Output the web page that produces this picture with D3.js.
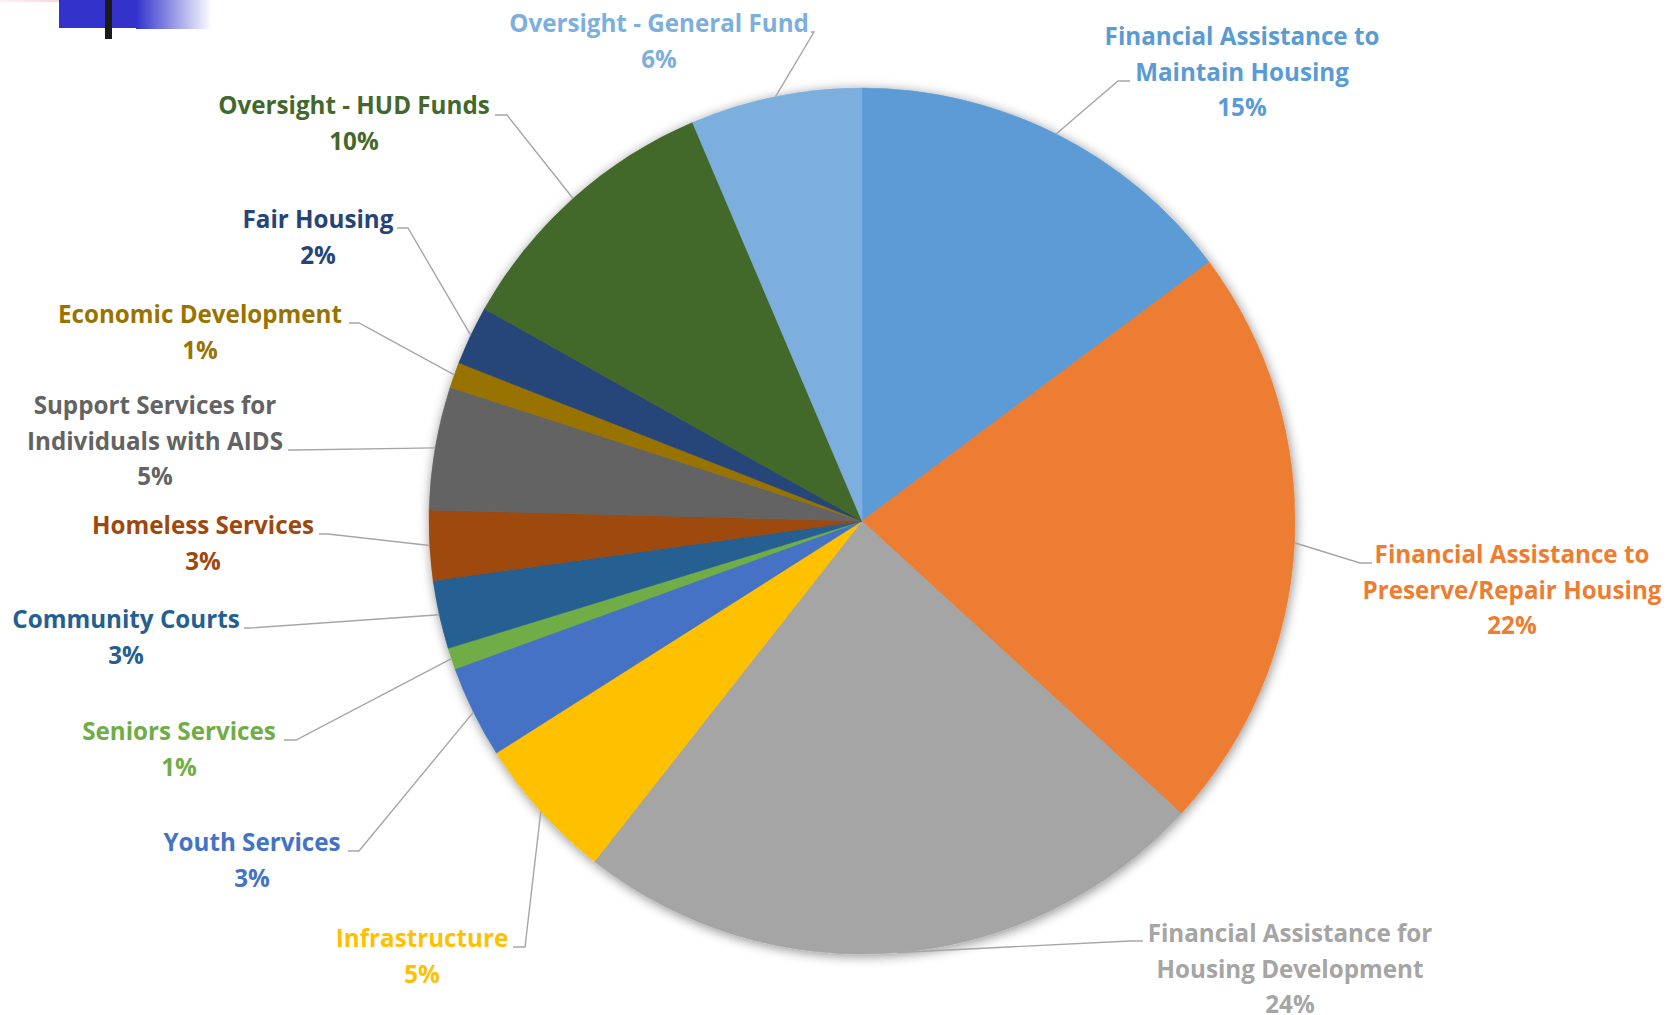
<!DOCTYPE html>
<html>
<head>
<meta charset="utf-8">
<script src="https://cdn.jsdelivr.net/npm/d3@7"></script>
<style>
  body { margin: 0; background: #fff; }
  svg { display: block; }
  .lbl { font-family: "Open Sans", Lato, sans-serif; font-weight: 700; font-size: 24.2px; }
</style>
</head>
<body>
<div id="chart"></div>
<script>
var svgWidth = 1672;
var svgHeight = 1015;

// slices, clockwise from 12 o'clock
var categories = [
  "Financial Assistance to Maintain Housing",
  "Financial Assistance to Preserve/Repair Housing",
  "Financial Assistance for Housing Development",
  "Infrastructure",
  "Youth Services",
  "Seniors Services",
  "Community Courts",
  "Homeless Services",
  "Support Services for Individuals with AIDS",
  "Economic Development",
  "Fair Housing",
  "Oversight - HUD Funds",
  "Oversight - General Fund"
];
var labelLines = [
  ["Financial Assistance to", "Maintain Housing"],
  ["Financial Assistance to", "Preserve/Repair Housing"],
  ["Financial Assistance for", "Housing Development"],
  ["Infrastructure"],
  ["Youth Services"],
  ["Seniors Services"],
  ["Community Courts"],
  ["Homeless Services"],
  ["Support Services for", "Individuals with AIDS"],
  ["Economic Development"],
  ["Fair Housing"],
  ["Oversight - HUD Funds"],
  ["Oversight - General Fund"]
];
var shares = [14.8, 22.0, 23.8, 5.4, 3.45, 0.8, 2.55, 2.6, 4.6, 0.95, 2.2, 10.45, 6.4];

var colors = ["#5B9BD5", "#ED7D31", "#A5A5A5", "#FFC000", "#4472C4", "#70AD47", "#255E91",
              "#9E480E", "#636363", "#997300", "#264478", "#43682B", "#7CAFDD"];

// label layout: text centre x, first baseline, leader end x, elbow x, leader y
var labelPos = [
  {x: 1242, y: 45,  ex: 1130, bx: 1118, ly: 81},
  {x: 1512, y: 563, ex: 1372, bx: 1360, ly: 563},
  {x: 1290, y: 942, ex: 1143, bx: 1130, ly: 941},
  {x: 422,  y: 947, ex: 513,  bx: 525,  ly: 947},
  {x: 252,  y: 851, ex: 348,  bx: 359,  ly: 851},
  {x: 179,  y: 740, ex: 284,  bx: 296,  ly: 740},
  {x: 126,  y: 628, ex: 244,  bx: 250,  ly: 628},
  {x: 203,  y: 534, ex: 319,  bx: 328,  ly: 534},
  {x: 155,  y: 414, ex: 288,  bx: 295,  ly: 450},
  {x: 200,  y: 323, ex: 349,  bx: 359,  ly: 323},
  {x: 318,  y: 228, ex: 397,  bx: 408,  ly: 228},
  {x: 354,  y: 114, ex: 495,  bx: 507,  ly: 115},
  {x: 659,  y: 32,  ex: 811,  bx: 814,  ly: 32}
];

var cx = 862, cy = 521, radius = 433, lineH = 35.5;

var svg = d3.select("#chart")
  .append("svg")
  .attr("width", svgWidth)
  .attr("height", svgHeight);

var defs = svg.append("defs");

var shadow = defs.append("filter")
  .attr("id", "shadow")
  .attr("x", "-10%").attr("y", "-10%")
  .attr("width", "120%").attr("height", "120%");
shadow.append("feGaussianBlur").attr("in", "SourceAlpha").attr("stdDeviation", 6).attr("result", "blur");
shadow.append("feOffset").attr("dx", 1).attr("dy", 2).attr("result", "off");
shadow.append("feComponentTransfer").append("feFuncA").attr("type", "linear").attr("slope", 0.45);
var merge = shadow.append("feMerge");
merge.append("feMergeNode");
merge.append("feMergeNode").attr("in", "SourceGraphic");

// little header decoration in the top-left corner
var pinkGrad = defs.append("linearGradient").attr("id", "pinkGrad");
pinkGrad.append("stop").attr("offset", "0%").attr("stop-color", "#fff0f3");
pinkGrad.append("stop").attr("offset", "100%").attr("stop-color", "#ffc4cf");
var blueGrad = defs.append("linearGradient").attr("id", "blueGrad");
blueGrad.append("stop").attr("offset", "0%").attr("stop-color", "#3333cc");
blueGrad.append("stop").attr("offset", "100%").attr("stop-color", "#ffffff");

var deco = svg.append("g");
deco.append("rect").attr("x", 0).attr("y", 0).attr("width", 90).attr("height", 2).attr("fill", "url(#pinkGrad)");
deco.append("rect").attr("x", 59).attr("y", 0).attr("width", 78).attr("height", 28).attr("fill", "#3333cc");
deco.append("rect").attr("x", 136).attr("y", 0).attr("width", 76).attr("height", 29).attr("fill", "url(#blueGrad)");
deco.append("rect").attr("x", 105).attr("y", 0).attr("width", 7).attr("height", 39).attr("fill", "#1a1a1a");

var pie = d3.pie().sort(null).value(d => d);
var arcs = pie(shares);
var total = d3.sum(shares);

var arc = d3.arc().innerRadius(0).outerRadius(radius);

var chartGroup = svg.append("g")
  .attr("transform", `translate(${cx}, ${cy})`);

chartGroup.append("g")
  .attr("filter", "url(#shadow)")
  .selectAll("path")
  .data(arcs)
  .enter()
  .append("path")
  .attr("d", arc)
  .attr("fill", (d, i) => colors[i])
  .attr("stroke", (d, i) => colors[i])
  .attr("stroke-width", 0.6);

// leader lines
var leaders = svg.append("g");
arcs.forEach(function(d, i) {
  var a = (d.startAngle + d.endAngle) / 2;
  var px = cx + radius * Math.sin(a);
  var py = cy - radius * Math.cos(a);
  var p = labelPos[i];
  leaders.append("polyline")
    .attr("points", `${p.ex},${p.ly} ${p.bx},${p.ly} ${px},${py}`)
    .attr("fill", "none")
    .attr("stroke", "#a6a6a6")
    .attr("stroke-width", 1.4);
});

// labels
var labels = svg.append("g");
arcs.forEach(function(d, i) {
  var p = labelPos[i];
  var t = labels.append("text")
    .attr("class", "lbl")
    .attr("text-anchor", "middle")
    .attr("fill", colors[i]);
  var lines = labelLines[i].concat([Math.round(d.value / total * 100) + "%"]);
  lines.forEach(function(s, k) {
    t.append("tspan")
      .attr("x", p.x)
      .attr("y", p.y + k * lineH)
      .text(s);
  });
});
</script>
</body>
</html>
